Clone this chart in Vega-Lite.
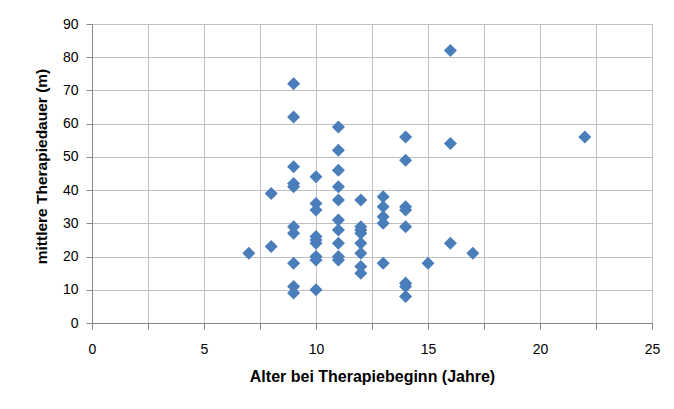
{
  "$schema": "https://vega.github.io/schema/vega-lite/v6.json",
  "width": 560,
  "height": 299,
  "autosize": {"type": "none"},
  "padding": {"left": 92, "top": 24, "right": 22, "bottom": 86},
  "background": "white",
  "config": {
    "view": {"stroke": null},
    "font": "Liberation Sans",
    "axis": {
      "gridColor": "#BFBFBF",
      "gridWidth": 1,
      "domainColor": "#868686",
      "tickColor": "#868686",
      "tickSize": 6,
      "labelColor": "#000000",
      "titleColor": "#000000",
      "labelFont": "Liberation Sans",
      "titleFont": "Liberation Sans",
      "labelFontSize": 14,
      "titleFontSize": 16,
      "titleFontWeight": "bold"
    }
  },
  "data": {
    "values": [
      {"alter": 7, "dauer": 21},
      {"alter": 8, "dauer": 39},
      {"alter": 8, "dauer": 23},
      {"alter": 9, "dauer": 72},
      {"alter": 9, "dauer": 62},
      {"alter": 9, "dauer": 47},
      {"alter": 9, "dauer": 42},
      {"alter": 9, "dauer": 41},
      {"alter": 9, "dauer": 29},
      {"alter": 9, "dauer": 27},
      {"alter": 9, "dauer": 18},
      {"alter": 9, "dauer": 11},
      {"alter": 9, "dauer": 9},
      {"alter": 10, "dauer": 44},
      {"alter": 10, "dauer": 36},
      {"alter": 10, "dauer": 34},
      {"alter": 10, "dauer": 26},
      {"alter": 10, "dauer": 25},
      {"alter": 10, "dauer": 24},
      {"alter": 10, "dauer": 20},
      {"alter": 10, "dauer": 19},
      {"alter": 10, "dauer": 10},
      {"alter": 11, "dauer": 59},
      {"alter": 11, "dauer": 52},
      {"alter": 11, "dauer": 46},
      {"alter": 11, "dauer": 41},
      {"alter": 11, "dauer": 37},
      {"alter": 11, "dauer": 31},
      {"alter": 11, "dauer": 28},
      {"alter": 11, "dauer": 24},
      {"alter": 11, "dauer": 20},
      {"alter": 11, "dauer": 19},
      {"alter": 12, "dauer": 37},
      {"alter": 12, "dauer": 29},
      {"alter": 12, "dauer": 28},
      {"alter": 12, "dauer": 27},
      {"alter": 12, "dauer": 24},
      {"alter": 12, "dauer": 21},
      {"alter": 12, "dauer": 17},
      {"alter": 12, "dauer": 15},
      {"alter": 13, "dauer": 38},
      {"alter": 13, "dauer": 35},
      {"alter": 13, "dauer": 32},
      {"alter": 13, "dauer": 30},
      {"alter": 13, "dauer": 18},
      {"alter": 14, "dauer": 56},
      {"alter": 14, "dauer": 49},
      {"alter": 14, "dauer": 35},
      {"alter": 14, "dauer": 34},
      {"alter": 14, "dauer": 29},
      {"alter": 14, "dauer": 12},
      {"alter": 14, "dauer": 11},
      {"alter": 14, "dauer": 8},
      {"alter": 15, "dauer": 18},
      {"alter": 16, "dauer": 82},
      {"alter": 16, "dauer": 54},
      {"alter": 16, "dauer": 24},
      {"alter": 17, "dauer": 21},
      {"alter": 22, "dauer": 56}
    ]
  },
  "mark": {"type": "point", "shape": "diamond", "filled": true, "opacity": 1, "size": 170, "color": "#4A7EBB"},
  "encoding": {
    "x": {
      "field": "alter",
      "type": "quantitative",
      "scale": {"domain": [0, 25], "nice": false, "zero": true},
      "axis": {
        "title": "Alter bei Therapiebeginn (Jahre)",
        "values": [0, 2.5, 5, 7.5, 10, 12.5, 15, 17.5, 20, 22.5, 25],
        "labelExpr": "datum.value % 5 === 0 ? datum.label : ''",
        "labelPadding": 13,
        "titlePadding": 12,
        "labelFlush": false
      }
    },
    "y": {
      "field": "dauer",
      "type": "quantitative",
      "scale": {"domain": [0, 90], "nice": false},
      "axis": {
        "title": "mittlere Therapiedauer (m)",
        "titleFontSize": 15.5,
        "titleX": -43,
        "titleY": 142,
        "titleAngle": -90,
        "titleBaseline": "bottom",
        "titleAlign": "center",
        "values": [0, 10, 20, 30, 40, 50, 60, 70, 80, 90],
        "labelPadding": 8,
        "labelFlush": false
      }
    }
  }
}
